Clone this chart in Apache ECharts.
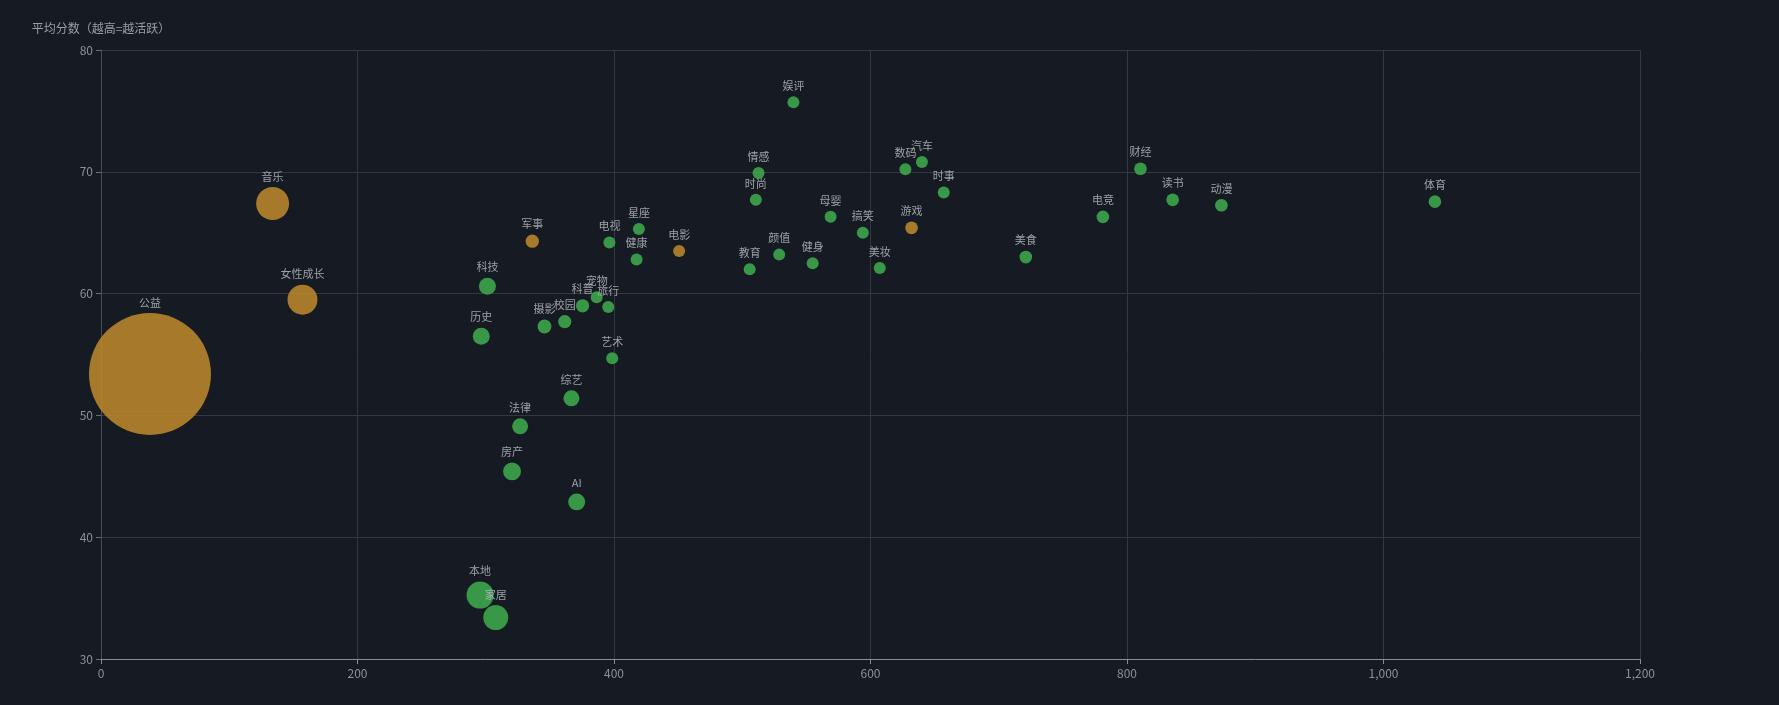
<!DOCTYPE html>
<html>
<head>
<meta charset="utf-8">
<title>bubble</title>
<script src="https://cdn.jsdelivr.net/npm/echarts@6/dist/echarts.min.js"></script>
<style>
    html,body{margin:0;padding:0;background:#161a22;}
    #main{width:1779px;height:705px;}
</style>
</head>
<body>
<div id="main"></div>
<script>
    // 板块名称
    var names = ['公益','音乐','女性成长','军事','电影','游戏',
        '娱评','情感','时尚','母婴','搞笑','数码','汽车','时事','美妆','健身','颜值','教育',
        '星座','电视','健康','科技','历史','摄影','校园','科普','宠物','旅行','艺术',
        '综艺','法律','房产','AI','本地','家居',
        '财经','读书','动漫','体育','电竞','美食'];
    // 横轴数值
    var xVals = [38.2,133.8,157.1,336.3,450.8,632.0,
        539.9,512.7,510.6,568.9,594.0,627.2,640.1,657.1,607.2,554.9,528.8,505.8,
        419.4,396.4,417.6,301.3,296.5,345.8,361.6,375.5,386.5,395.5,398.6,
        366.8,326.8,320.5,370.9,295.6,307.8,
        810.5,835.6,873.6,1040.1,781.2,721.1];
    // 平均分数
    var yVals = [53.4,67.4,59.5,64.3,63.5,65.4,
        75.7,69.9,67.7,66.3,65.0,70.2,70.8,68.3,62.1,62.5,63.2,62.0,
        65.3,64.2,62.8,60.6,56.5,57.3,57.7,59.0,59.7,58.9,54.7,
        51.4,49.1,45.4,42.9,35.25,33.4,
        70.25,67.7,67.25,67.55,66.3,63.0];
    // 气泡大小对应的数量
    var counts = [930,68,56,11,9,10,
        9,9,9,9,9,9,9,9,9,9,9,9,
        9,9,9,18,18,12,11,11,9,9,9,
        16,16,20,18,46,39,
        10,10,10,10,10,10];
    // 是否为重点板块（橙色）
    var hot = [1,1,1,1,1,1,
        0,0,0,0,0,0,0,0,0,0,0,0,
        0,0,0,0,0,0,0,0,0,0,0,
        0,0,0,0,0,0,
        0,0,0,0,0,0];
    var xTicks = [0,200,400,600,800,1000,1200];
    var yTicks = [30,40,50,60,70,80];

    var hotData = [], normalData = [];
    for (var i = 0; i < names.length; i++) {
        var item = {name: names[i], value: [xVals[i], yVals[i], counts[i]]};
        if (hot[i]) hotData.push(item); else normalData.push(item);
    }

    var labelCfg = {
        show: true,
        position: 'top',
        formatter: '{b}',
        color: '#b4b8bf',
        fontSize: 11,
        distance: 5
    };
    function sizeFn(val){ return 4 * Math.sqrt(val[2]); }

    var chart = echarts.init(document.getElementById('main'));
    chart.setOption({
        backgroundColor: '#161a22',
        textStyle: {fontFamily: '"Noto Sans CJK SC", "Noto Sans", sans-serif'},
        grid: {left: 101, right: 139, top: 50, bottom: 46},
        xAxis: {
            type: 'value',
            min: xTicks[0],
            max: xTicks[xTicks.length - 1],
            interval: 200,
            axisLine: {lineStyle: {color: '#8a8d94'}},
            axisTick: {show: true, lineStyle: {color: '#8a8d94'}},
            axisLabel: {color: '#8c9099', fontSize: 12, margin: 8},
            splitLine: {show: true, lineStyle: {color: '#33373f'}}
        },
        yAxis: {
            type: 'value',
            min: yTicks[0],
            max: yTicks[yTicks.length - 1],
            interval: 10,
            name: '平均分数（越高=越活跃）',
            nameGap: 16,
            nameTextStyle: {color: '#9a9ea6', fontSize: 12},
            axisLine: {show: true, lineStyle: {color: '#4a4d55'}},
            axisTick: {show: true, lineStyle: {color: '#6a6d75'}},
            axisLabel: {color: '#8c9099', fontSize: 12, margin: 8},
            splitLine: {show: true, lineStyle: {color: '#33373f'}}
        },
        series: [{
            name: '普通',
            type: 'scatter',
            data: normalData,
            symbolSize: sizeFn,
            itemStyle: {color: '#3fae4f', opacity: 0.85},
            label: labelCfg
        },{
            name: '重点',
            type: 'scatter',
            data: hotData,
            symbolSize: sizeFn,
            itemStyle: {color: '#c08c2c', opacity: 0.85},
            label: labelCfg
        }]
    });
</script>
</body>
</html>
